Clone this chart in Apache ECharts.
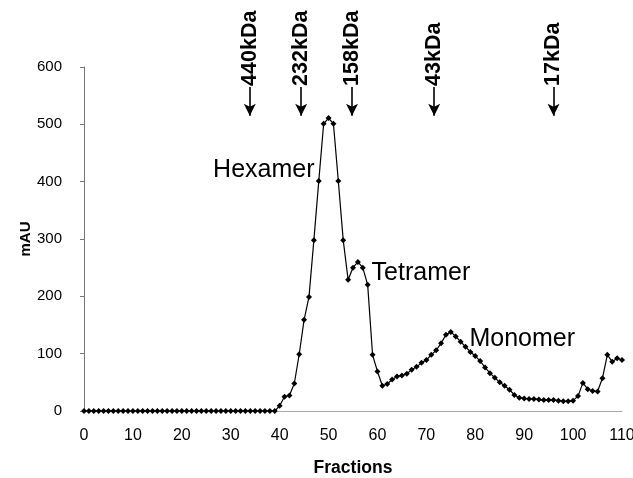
<!DOCTYPE html>
<html>
<head>
<meta charset="utf-8">
<script src="https://cdn.jsdelivr.net/npm/echarts@6/dist/echarts.min.js"></script>
<style>html,body{margin:0;padding:0;background:#fff}#c{width:633px;height:478px}</style>
</head>
<body>
<div id="c"></div>
<script>
// Fractions 0..110
var fractions = [];
for (var i = 0; i <= 110; i++) fractions.push(i);
// Absorbance (mAU) per fraction
var mAU = [
  0,0,0,0,0,0,0,0,0,0,           // 0-9
  0,0,0,0,0,0,0,0,0,0,           // 10-19
  0,0,0,0,0,0,0,0,0,0,           // 20-29
  0,0,0,0,0,0,0,0,0,0,           // 30-39
  9,25,27,48,99,159,199,298,401,501,   // 40-49
  511,501,401,298,229,250,260,250,220,98, // 50-59
  69,44,47,55,60,62,65,72,77,84,       // 60-69
  89,98,106,118,133,138,130,121,112,103, // 70-79
  96,87,76,66,58,50,44,37,28,23,       // 80-89
  22,21,21,20,19,19,19,18,17,17,       // 90-99
  18,26,49,38,35,34,57,98,86,92,       // 100-109
  89                                   // 110
];
// Molecular weight markers (fraction positions)
var markerLabels = ['440kDa', '232kDa', '158kDa', '43kDa', '17kDa'];
var markerFractions = [33.9, 44.4, 54.8, 71.6, 96.0];
// Peak annotations
var peakLabels = ['Hexamer', 'Tetramer', 'Monomer'];
var peakFractions = [26.4, 58.8, 78.8];
var peakValues = [421, 241, 126];
// Axis ticks
var xTicks = {min: 0, max: 110, interval: 10};
var yTicks = {min: 0, max: 600, interval: 100};

var lineData = fractions.map(function (f, k) { return [f, mAU[k]]; });

var markLineData = markerFractions.map(function (f) {
  return [{coord: [f, 565], symbol: 'none'}, {coord: [f, 515], symbol: 'arrow'}];
});
var markPointData = markerFractions.map(function (f, k) {
  return {
    coord: [f, 567], symbol: 'circle', symbolSize: 0,
    label: {show: true, formatter: markerLabels[k], rotate: 90, position: 'inside',
      align: 'left', verticalAlign: 'middle', fontFamily: 'Liberation Sans', fontWeight: 'bold',
      fontSize: 21.5, color: '#000'}
  };
}).concat(peakLabels.map(function (t, k) {
  return {
    coord: [peakFractions[k], peakValues[k]], symbol: 'circle', symbolSize: 0,
    label: {show: true, formatter: t, position: 'inside', align: 'left', verticalAlign: 'middle',
      fontFamily: 'Liberation Sans', fontSize: 25, color: '#000'}
  };
}));

var chart = echarts.init(document.getElementById('c'));
chart.setOption({
  animation: false,
  backgroundColor: '#fff',
  grid: {left: 84, right: 11, top: 67, bottom: 67, containLabel: false, outerBoundsMode: 'none'},
  xAxis: {
    type: 'value', min: xTicks.min, max: xTicks.max, interval: xTicks.interval,
    name: 'Fractions', nameLocation: 'middle', nameGap: 48,
    nameTextStyle: {fontFamily: 'Liberation Sans', fontWeight: 'bold', fontSize: 17.5, color: '#000'},
    axisLine: {lineStyle: {color: '#aaa', width: 1}},
    axisTick: {show: false},
    splitLine: {show: false},
    axisLabel: {fontFamily: 'Liberation Sans', fontSize: 16, color: '#000', margin: 17}
  },
  yAxis: {
    type: 'value', min: yTicks.min, max: yTicks.max, interval: yTicks.interval,
    name: 'mAU', nameLocation: 'middle', nameGap: 51, nameRotate: 90, nameMoveOverlap: false,
    nameTextStyle: {fontFamily: 'Liberation Sans', fontWeight: 'bold', fontSize: 15, color: '#000'},
    axisLine: {show: true, lineStyle: {color: '#777', width: 1}},
    axisTick: {show: true, length: 4, lineStyle: {color: '#777'}},
    splitLine: {show: false},
    axisLabel: {fontFamily: 'Liberation Sans', fontSize: 15, color: '#000', margin: 22}
  },
  series: [{
    type: 'line',
    data: lineData,
    symbol: 'diamond',
    symbolSize: 6,
    showSymbol: true,
    itemStyle: {color: '#000'},
    lineStyle: {color: '#000', width: 1.2},
    markLine: {
      silent: true, symbolSize: [9, 12],
      label: {show: false},
      lineStyle: {color: '#000', width: 1.6, type: 'solid'},
      data: markLineData
    },
    markPoint: {silent: true, data: markPointData}
  }]
});
</script>
</body>
</html>
